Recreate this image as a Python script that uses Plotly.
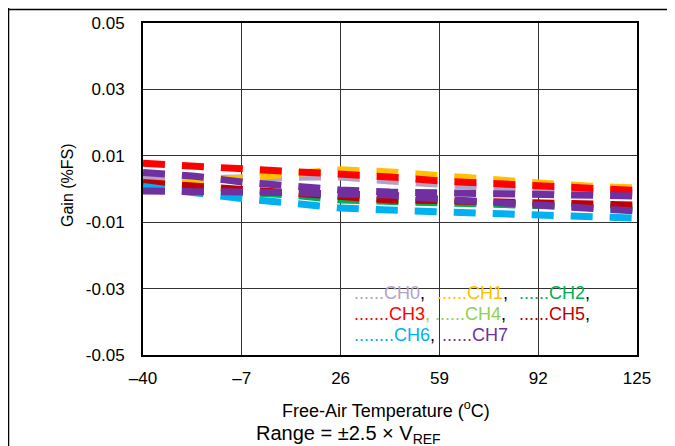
import plotly.graph_objects as go

temps = [-40, -23.5, -7, 9.5, 26, 42.5, 59, 75.5, 92, 108.5, 125]

ch0 = [0.00303, 0.00318, 0.00333, 0.00379, 0.00364, 0.00242, 0.00121, 0.00045, -0.00030, -0.00061, -0.00121]
ch1 = [0.00121, 0.00212, 0.00333, 0.00455, 0.00576, 0.00515, 0.00394, 0.00273, 0.00182, 0.00091, 0.00030]
ch2 = [0.00076, 0.00000, -0.00061, -0.00182, -0.00333, -0.00364, -0.00409, -0.00470, -0.00500, -0.00545, -0.00576]
ch3 = [0.00773, 0.00697, 0.00606, 0.00515, 0.00424, 0.00364, 0.00242, 0.00182, 0.00106, 0.00030, -0.00045]
ch4 = [-0.00061, -0.00061, -0.00091, -0.00106, -0.00152, -0.00182, -0.00303, -0.00394, -0.00500, -0.00576, -0.00667]
ch5 = [0.00197, 0.00091, -0.00030, -0.00152, -0.00273, -0.00333, -0.00348, -0.00394, -0.00409, -0.00455, -0.00485]
ch6 = [0.00076, -0.00121, -0.00288, -0.00424, -0.00576, -0.00636, -0.00682, -0.00742, -0.00818, -0.00848, -0.00879]
ch7 = [0.00500, 0.00394, 0.00212, 0.00091, -0.00030, -0.00091, -0.00106, -0.00152, -0.00152, -0.00182, -0.00212]

series_names = ["CH0", "CH1", "CH2", "CH3", "CH4", "CH5", "CH6", "CH7"]
series_values = [ch0, ch1, ch2, ch3, ch4, ch5, ch6, ch7]
# colours of the plotted dashes (CH4 is drawn in purple in the source picture)
series_colors = ["#b3a2c7", "#ffc000", "#00b050", "#ff0000", "#7030a0", "#c00000", "#00b0f0", "#7030a0"]
draw_order = [0, 1, 2, 3, 5, 6, 4, 7]

# text legend (coloured labels)
legend_labels = ["CH0", "CH1", "CH2", "CH3", "CH4", "CH5", "CH6", "CH7"]
legend_colors = ["#b3a2c7", "#ffc000", "#00b050", "#ff0000", "#92d050", "#c00000", "#00b0f0", "#7030a0"]
legend_dots = [6, 6, 6, 7, 6, 6, 8, 6]
legend_commas = [",", ",", ",", ",", ",", ",", ",", ""]
legend_comma_colors = ["black", "black", "black", "#92d050", "black", "black", "black", "black"]

x_tickvals = [-40, -7, 26, 59, 92, 125]
x_ticktext = ["\u201340", "\u20137", "26", "59", "92", "125"]
y_tickvals = [0.05, 0.03, 0.01, -0.01, -0.03, -0.05]
y_ticktext = ["0.05", "0.03", "0.01", "-0.01", "-0.03", "-0.05"]

fig = go.Figure()
for i in draw_order:
    fig.add_trace(go.Scatter(
        x=temps, y=series_values[i], mode="lines", name=series_names[i],
        line=dict(color=series_colors[i], width=7, dash="22px,17px"),
        showlegend=False,
    ))

font = "Liberation Sans, Arial, sans-serif"
# page body has an 8px margin in the browser
OFF = 8
W, H = 675 - OFF, 446 - OFF
PX0, PX1, PY0, PY1 = 143, 637, 23, 355  # plot area in screen pixels
L, R, T, B = PX0 - OFF, W - (PX1 - OFF), PY0 - OFF, H - (PY1 - OFF)
pw, ph = PX1 - PX0, PY1 - PY0


def px(sx):
    return (sx - PX0) / pw


def py(sy):
    return (PY1 - sy) / ph


fig.update_layout(
    width=W, height=H,
    margin=dict(l=L, r=R, t=T, b=B, pad=0, autoexpand=False),
    paper_bgcolor="white", plot_bgcolor="white",
    font=dict(family=font, size=17, color="black"),
    xaxis=dict(
        range=[-40, 125], tickvals=x_tickvals, ticktext=x_ticktext,
        showgrid=True, gridcolor="#333333", gridwidth=1,
        showline=True, linecolor="black", linewidth=2, mirror=True,
        ticks="", ticklabelstandoff=7, zeroline=False, automargin=False,
        tickfont=dict(family=font, size=17),
    ),
    yaxis=dict(
        range=[-0.05, 0.05], tickvals=y_tickvals, ticktext=y_ticktext,
        showgrid=True, gridcolor="#333333", gridwidth=1,
        showline=True, linecolor="black", linewidth=2, mirror=True,
        ticks="", ticklabelstandoff=13, zeroline=False, automargin=False,
        tickfont=dict(family=font, size=17),
    ),
)

legend_pos = [(352, 293), (435, 293), (517, 293),
              (352, 314), (433, 314), (517, 314),
              (352, 335), (440, 335)]
for i, (sx, sy) in enumerate(legend_pos):
    txt = ('<span style="color:%s">%s%s</span><span style="color:%s">%s</span>'
           % (legend_colors[i], "." * legend_dots[i], legend_labels[i],
              legend_comma_colors[i], legend_commas[i]))
    fig.add_annotation(
        x=px(sx), y=py(sy), xref="paper", yref="paper",
        xanchor="left", yanchor="middle", align="left", showarrow=False,
        text=txt, font=dict(family=font, size=18, color="black"),
    )

fig.add_annotation(
    x=px(386), y=py(409), xref="paper", yref="paper",
    xanchor="center", yanchor="middle", showarrow=False,
    text="Free-Air Temperature (<sup>o</sup>C)", font=dict(family=font, size=18),
)
fig.add_annotation(
    x=px(348), y=py(435), xref="paper", yref="paper",
    xanchor="center", yanchor="middle", showarrow=False,
    text="Range = \u00b12.5 \u00d7 V<sub>REF</sub>", font=dict(family=font, size=20),
)
fig.add_annotation(
    x=px(67), y=py(185), xref="paper", yref="paper",
    xanchor="center", yanchor="middle", showarrow=False, textangle=-90,
    text="Gain (%FS)", font=dict(family=font, size=16),
)

# outer frame lines
fig.add_shape(type="line", xref="paper", yref="paper",
              x0=px(8.5), x1=px(8.5), y0=py(8), y1=py(446),
              line=dict(color="black", width=1.5))
fig.add_shape(type="line", xref="paper", yref="paper",
              x0=px(8), x1=px(675), y0=py(9.5), y1=py(9.5),
              line=dict(color="black", width=1.5))

fig.write_html("out.html")
